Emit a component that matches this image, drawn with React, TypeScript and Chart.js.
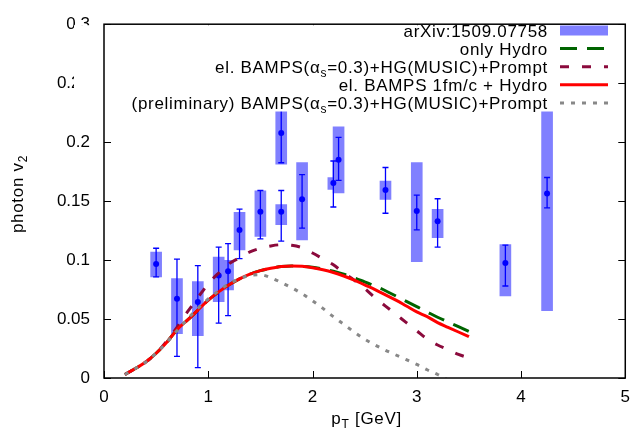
import React, { useEffect, useRef } from 'react';
import { Chart, registerables } from 'chart.js';

Chart.register(...registerables);

const FONT = '"Liberation Sans", Arial, Helvetica, sans-serif';

// ---- tick labels ----
const xTickLabels = ['0', '1', '2', '3', '4', '5'];
const yTickLabels = ['0', '0.05', '0.1', '0.15', '0.2', '0.25', '0.3'];

// ---- data: arXiv:1509.07758 ----
const dataPT = [0.5, 0.7, 0.9, 1.1, 1.19, 1.3, 1.5, 1.7, 1.7, 1.9, 2.2, 2.25, 2.7, 3.0, 3.2, 3.85, 4.25];
const dataV2 = [0.0967, 0.0672, 0.0645, 0.087, 0.0906, 0.1256, 0.141, 0.141, 0.2077, 0.1515, 0.1653, 0.185, 0.1595, 0.1416, 0.133, 0.0975, 0.1564];
const statLo = [0.0857, 0.0184, 0.0088, 0.0466, 0.0529, 0.1013, 0.118, 0.116, 0.1825, 0.127, 0.145, 0.1675, 0.1397, 0.1256, 0.111, 0.078, 0.1443];
const statHi = [0.110, 0.1008, 0.0953, 0.111, 0.114, 0.1432, 0.159, 0.159, 0.233, 0.1724, 0.184, 0.204, 0.1785, 0.155, 0.152, 0.1127, 0.170];
const sysLo = [0.0857, 0.0375, 0.0358, 0.0647, 0.0746, 0.1085, 0.120, 0.130, 0.1813, 0.117, 0.160, 0.157, 0.1515, 0.0986, 0.119, 0.0697, 0.057];
const sysHi = [0.1067, 0.0843, 0.0818, 0.1025, 0.0997, 0.1405, 0.1587, 0.147, 0.235, 0.1826, 0.170, 0.213, 0.167, 0.1826, 0.143, 0.1132, 0.256];

// ---- model curves ----
const curvePT = [0.2, 0.3, 0.4, 0.5, 0.6, 0.7, 0.8, 0.9, 1.0, 1.1, 1.2, 1.3, 1.4, 1.5, 1.6, 1.7, 1.8, 1.9, 2.0, 2.1, 2.2, 2.3, 2.4, 2.5, 2.6, 2.7, 2.8, 2.9, 3.0, 3.1, 3.2, 3.3, 3.4, 3.5];
const onlyHydro = [0.003, 0.008, 0.0135, 0.021, 0.030, 0.041, 0.049, 0.0575, 0.066, 0.073, 0.079, 0.084, 0.088, 0.091, 0.093, 0.0945, 0.095, 0.0947, 0.094, 0.0925, 0.0905, 0.088, 0.085, 0.0815, 0.078, 0.074, 0.0695, 0.065, 0.0605, 0.056, 0.0515, 0.0475, 0.0435, 0.0395];
const bampsPrompt = [0.003, 0.008, 0.0135, 0.021, 0.031, 0.043, 0.056, 0.068, 0.080, 0.089, 0.097, 0.102, 0.107, 0.110, 0.112, 0.113, 0.1125, 0.1105, 0.106, 0.101, 0.096, 0.089, 0.083, 0.076, 0.068, 0.061, 0.054, 0.047, 0.040, 0.033, 0.028, 0.024, 0.020, 0.017];
const bampsHydro = [0.003, 0.008, 0.0135, 0.021, 0.030, 0.041, 0.049, 0.0575, 0.066, 0.073, 0.079, 0.084, 0.088, 0.091, 0.093, 0.0945, 0.095, 0.0947, 0.0935, 0.0918, 0.0895, 0.0865, 0.083, 0.079, 0.075, 0.0705, 0.066, 0.061, 0.056, 0.052, 0.047, 0.043, 0.039, 0.035];
const prelimPT = [0.2, 0.3, 0.4, 0.5, 0.6, 0.7, 0.8, 0.9, 1.0, 1.1, 1.2, 1.3, 1.4, 1.5, 1.6, 1.7, 1.8, 1.9, 2.0, 2.1, 2.2, 2.3, 2.4, 2.5, 2.6, 2.7, 2.8, 2.9, 3.0, 3.1, 3.2, 3.3];
const prelim = [0.003, 0.008, 0.0135, 0.021, 0.030, 0.040, 0.050, 0.059, 0.067, 0.074, 0.080, 0.084, 0.087, 0.0875, 0.085, 0.081, 0.0765, 0.0715, 0.0655, 0.059, 0.052, 0.0455, 0.039, 0.033, 0.028, 0.0235, 0.0195, 0.0155, 0.0115, 0.007, 0.003, -0.002];

type Seg = { t: string; sub?: boolean };

const legendItems: { segs: Seg[]; kind: string; color: string; dash: number[] }[] = [
  { segs: [{ t: 'arXiv:1509.07758' }], kind: 'box', color: 'rgb(128,128,255)', dash: [] },
  { segs: [{ t: 'only Hydro' }], kind: 'line', color: '#006400', dash: [17, 10] },
  { segs: [{ t: 'el. BAMPS(α' }, { t: 's', sub: true }, { t: '=0.3)+HG(MUSIC)+Prompt' }], kind: 'line', color: '#8b0a3c', dash: [9, 13] },
  { segs: [{ t: 'el. BAMPS 1fm/c + Hydro' }], kind: 'line', color: '#ff0000', dash: [] },
  { segs: [{ t: '(preliminary) BAMPS(α' }, { t: 's', sub: true }, { t: '=0.3)+HG(MUSIC)+Prompt' }], kind: 'line', color: '#888888', dash: [4, 7] },
];

const MAIN = 17;
const SUB = 12;
const SPACING = '0.7px';

function setFont(ctx: any, sub?: boolean) {
  ctx.font = `${sub ? SUB : MAIN}px ${FONT}`;
  try {
    ctx.letterSpacing = SPACING;
  } catch (e) {
    /* ignore */
  }
}

function segWidth(ctx: CanvasRenderingContext2D, segs: Seg[]) {
  let w = 0;
  for (const s of segs) {
    setFont(ctx, s.sub);
    w += ctx.measureText(s.t).width;
  }
  return w;
}

function drawSegs(ctx: CanvasRenderingContext2D, segs: Seg[], x: number, y: number) {
  let cx = x;
  ctx.textAlign = 'left';
  ctx.textBaseline = 'alphabetic';
  for (const s of segs) {
    setFont(ctx, s.sub);
    ctx.fillText(s.t, cx, s.sub ? y + 4 : y);
    cx += ctx.measureText(s.t).width;
  }
}

const gnuPlugin = {
  id: 'gnuDecor',
  afterDatasetDraw(chart: any, args: any) {
    if (args.index !== 0) return;
    const { ctx, scales } = chart;
    const xs = scales.x;
    const ys = scales.y;
    ctx.save();
    ctx.strokeStyle = '#0000ff';
    ctx.lineWidth = 1.3;
    for (let i = 0; i < dataPT.length; i++) {
      const px = xs.getPixelForValue(dataPT[i]);
      const y1 = ys.getPixelForValue(statLo[i]);
      const y2 = ys.getPixelForValue(statHi[i]);
      ctx.beginPath();
      ctx.moveTo(px, y1);
      ctx.lineTo(px, y2);
      ctx.moveTo(px - 3, y1);
      ctx.lineTo(px + 3, y1);
      ctx.moveTo(px - 3, y2);
      ctx.lineTo(px + 3, y2);
      ctx.stroke();
    }
    ctx.restore();
  },
  afterDraw(chart: any) {
    const { ctx, chartArea, scales } = chart;
    const { left, right, top, bottom } = chartArea;
    const xs = scales.x;
    const ys = scales.y;
    ctx.save();
    // inward ticks
    ctx.strokeStyle = '#000';
    ctx.lineWidth = 1;
    const TL = 7;
    ctx.beginPath();
    xTickLabels.forEach((_, i) => {
      const px = Math.round(xs.getPixelForValue(i)) + 0.5;
      ctx.moveTo(px, bottom);
      ctx.lineTo(px, bottom - TL);
      ctx.moveTo(px, top);
      ctx.lineTo(px, top + TL);
    });
    yTickLabels.forEach((_, i) => {
      const py = Math.round(ys.getPixelForValue(i * 0.05)) + 0.5;
      ctx.moveTo(left, py);
      ctx.lineTo(left + TL, py);
      ctx.moveTo(right, py);
      ctx.lineTo(right - TL, py);
    });
    ctx.stroke();

    // legend background (opaque)
    ctx.fillStyle = '#fff';
    ctx.fillRect(74, top + 1, 613 - 74, 111.5 - top - 1);

    // frame
    ctx.strokeStyle = '#000';
    ctx.lineWidth = 1.5;
    ctx.strokeRect(left, top, right - left, bottom - top);

    // legend entries
    const textRight = 548;
    const sx0 = 560;
    const sx1 = 608;
    legendItems.forEach((it, i) => {
      const cy = 30.5 + i * 18.1;
      ctx.fillStyle = '#000';
      const w = segWidth(ctx, it.segs);
      drawSegs(ctx, it.segs, textRight - w, cy + 6);
      if (it.kind === 'box') {
        ctx.fillStyle = it.color;
        ctx.fillRect(sx0, cy - 5, sx1 - sx0, 10);
      } else {
        ctx.strokeStyle = it.color;
        ctx.lineWidth = 3;
        ctx.setLineDash(it.dash);
        ctx.beginPath();
        ctx.moveTo(sx0, cy);
        ctx.lineTo(sx1, cy);
        ctx.stroke();
        ctx.setLineDash([]);
      }
    });

    // axis titles
    ctx.fillStyle = '#000';
    const xt: Seg[] = [{ t: 'p' }, { t: 'T', sub: true }, { t: ' [GeV]' }];
    const xw = segWidth(ctx, xt);
    drawSegs(ctx, xt, (left + right) / 2 + 2 - xw / 2, 424);

    const yt: Seg[] = [{ t: 'photon v' }, { t: '2', sub: true }];
    const yw = segWidth(ctx, yt);
    ctx.translate(23, 194);
    ctx.rotate(-Math.PI / 2);
    drawSegs(ctx, yt, -yw / 2, 0);
    ctx.restore();
  },
};

export default function App() {
  const ref = useRef<HTMLCanvasElement | null>(null);
  useEffect(() => {
    if (!ref.current) return;
    const chart = new Chart(ref.current, {
      type: 'bar',
      data: {
        datasets: [
          {
            type: 'bar',
            label: 'arXiv:1509.07758',
            data: dataPT.map((x, i) => ({ x, y: [sysLo[i], sysHi[i]] })) as any,
            backgroundColor: 'rgb(128,128,255)',
            borderWidth: 0,
            barThickness: 11,
            order: 10,
          } as any,
          {
            type: 'scatter',
            label: 'points',
            data: dataPT.map((x, i) => ({ x, y: dataV2[i] })),
            pointRadius: 3,
            pointBackgroundColor: '#0000ff',
            pointBorderColor: '#0000ff',
            pointBorderWidth: 0,
            order: 9,
          } as any,
          {
            type: 'line',
            label: 'only Hydro',
            data: curvePT.map((x, i) => ({ x, y: onlyHydro[i] })),
            borderColor: '#006400',
            borderWidth: 3,
            borderDash: [17, 10],
            pointRadius: 0,
            cubicInterpolationMode: 'monotone',
            fill: false,
            order: 4,
          } as any,
          {
            type: 'line',
            label: 'el. BAMPS(αs=0.3)+HG(MUSIC)+Prompt',
            data: curvePT.map((x, i) => ({ x, y: bampsPrompt[i] })),
            borderColor: '#8b0a3c',
            borderWidth: 3,
            borderDash: [9, 13],
            pointRadius: 0,
            cubicInterpolationMode: 'monotone',
            fill: false,
            order: 3,
          } as any,
          {
            type: 'line',
            label: 'el. BAMPS 1fm/c + Hydro',
            data: curvePT.map((x, i) => ({ x, y: bampsHydro[i] })),
            borderColor: '#ff0000',
            borderWidth: 3,
            pointRadius: 0,
            cubicInterpolationMode: 'monotone',
            fill: false,
            order: 2,
          } as any,
          {
            type: 'line',
            label: '(preliminary) BAMPS(αs=0.3)+HG(MUSIC)+Prompt',
            data: prelimPT.map((x, i) => ({ x, y: prelim[i] })),
            borderColor: '#888888',
            borderWidth: 3,
            borderDash: [4, 7],
            pointRadius: 0,
            cubicInterpolationMode: 'monotone',
            fill: false,
            order: 1,
          } as any,
        ],
      },
      options: {
        animation: false,
        responsive: false,
        events: [],
        layout: { padding: { left: 0, right: 9, top: 15, bottom: 0 } },
        plugins: { legend: { display: false }, tooltip: { enabled: false } },
        scales: {
          x: {
            type: 'linear',
            min: 0,
            max: 5,
            offset: false,
            grid: { display: false, drawTicks: false },
            border: { display: false },
            ticks: {
              stepSize: 1,
              padding: 9,
              autoSkip: false,
              maxRotation: 0,
              color: '#000',
              font: { family: FONT, size: 17 },
              callback: (_v: any, i: number) => xTickLabels[i],
            },
            afterFit: (s: any) => {
              s.height = 56;
            },
          },
          y: {
            type: 'linear',
            min: 0,
            max: 0.3,
            grid: { display: false, drawTicks: false },
            border: { display: false },
            ticks: {
              stepSize: 0.05,
              padding: 14,
              autoSkip: false,
              color: '#000',
              font: { family: FONT, size: 17 },
              callback: (_v: any, i: number) => yTickLabels[i],
            },
            afterFit: (s: any) => {
              s.width = 104;
            },
          },
        },
      } as any,
      plugins: [gnuPlugin as any],
    });
    return () => chart.destroy();
  }, []);
  return (
    <div style={{ position: 'fixed', left: 0, top: 0, width: 639, height: 434, background: '#fff' }}>
      <canvas ref={ref} width={639} height={434} style={{ display: 'block' }} />
    </div>
  );
}
